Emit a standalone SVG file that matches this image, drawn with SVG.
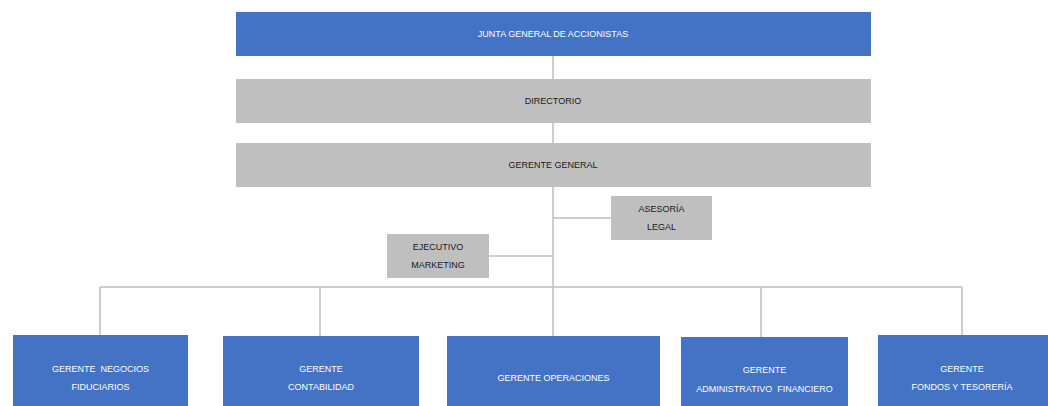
<svg xmlns="http://www.w3.org/2000/svg" width="1048" height="406" viewBox="0 0 1048 406">
  <style>
    .blue { fill: #4472C4; }
    .gray { fill: #BFBFBF; }
    .link { stroke: #BDBDBD; stroke-width: 1.5; fill: none; }
    text { font-family: "Liberation Sans", Arial, sans-serif; font-size: 9px; text-anchor: middle; dominant-baseline: central; white-space: pre; }
    .w { fill: #FFFFFF; }
    .d { fill: #1A1A1A; }
  </style>
  <rect width="1048" height="406" fill="#FFFFFF"/>

  <g id="connectors">
    <line class="link" x1="553" y1="56" x2="553" y2="287"/>
    <line class="link" x1="553" y1="218" x2="611" y2="218"/>
    <line class="link" x1="489" y1="256" x2="553" y2="256"/>
    <line class="link" x1="100" y1="287" x2="962" y2="287"/>
    <line class="link" x1="100" y1="287" x2="100" y2="336"/>
    <line class="link" x1="320" y1="287" x2="320" y2="337"/>
    <line class="link" x1="553" y1="287" x2="553" y2="337"/>
    <line class="link" x1="761" y1="287" x2="761" y2="338"/>
    <line class="link" x1="962" y1="287" x2="962" y2="336"/>
  </g>

  <g id="junta">
    <rect class="blue" x="236" y="12" width="635" height="44"/>
    <text class="w" x="553" y="34">JUNTA GENERAL DE ACCIONISTAS</text>
  </g>
  <g id="directorio">
    <rect class="gray" x="236" y="79" width="635" height="44"/>
    <text class="d" x="553" y="101">DIRECTORIO</text>
  </g>
  <g id="gerente-general">
    <rect class="gray" x="236" y="143" width="635" height="44"/>
    <text class="d" x="553" y="165">GERENTE GENERAL</text>
  </g>
  <g id="asesoria-legal">
    <rect class="gray" x="611" y="196" width="101" height="44"/>
    <text class="d" x="661.5" y="209">ASESORÍA</text>
    <text class="d" x="661.5" y="227">LEGAL</text>
  </g>
  <g id="ejecutivo-marketing">
    <rect class="gray" x="387" y="234" width="102" height="44"/>
    <text class="d" x="438" y="247">EJECUTIVO</text>
    <text class="d" x="438" y="265">MARKETING</text>
  </g>

  <g id="gerente-negocios">
    <rect class="blue" x="13" y="335" width="175" height="71"/>
    <text class="w" x="100.5" y="369">GERENTE  NEGOCIOS</text>
    <text class="w" x="100.5" y="387">FIDUCIARIOS</text>
  </g>
  <g id="gerente-contabilidad">
    <rect class="blue" x="223" y="336" width="196" height="70"/>
    <text class="w" x="321" y="369">GERENTE</text>
    <text class="w" x="321" y="387">CONTABILIDAD</text>
  </g>
  <g id="gerente-operaciones">
    <rect class="blue" x="447" y="336" width="213" height="70"/>
    <text class="w" x="553.5" y="378">GERENTE OPERACIONES</text>
  </g>
  <g id="gerente-administrativo">
    <rect class="blue" x="681" y="337" width="167" height="69"/>
    <text class="w" x="764.5" y="370">GERENTE</text>
    <text class="w" x="764.5" y="389">ADMINISTRATIVO  FINANCIERO</text>
  </g>
  <g id="gerente-fondos">
    <rect class="blue" x="878" y="335" width="170" height="71"/>
    <text class="w" x="962" y="369">GERENTE</text>
    <text class="w" x="962" y="387">FONDOS Y TESORERÍA</text>
  </g>
</svg>
